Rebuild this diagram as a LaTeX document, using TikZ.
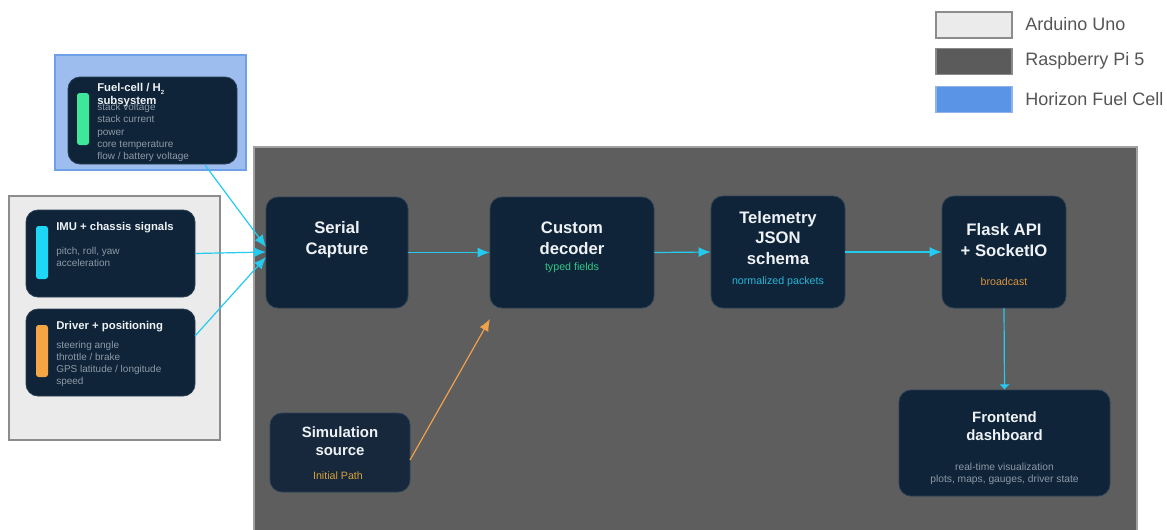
\documentclass[tikz,border=0pt]{standalone}
\usepackage{fontspec}
\setmainfont{Liberation Sans}
\usetikzlibrary{arrows.meta,calc}
\definecolor{navy}{HTML}{0F2438}
\definecolor{navyedge}{HTML}{2B3F55}
\definecolor{simnavy}{HTML}{17283C}
\definecolor{rpi}{HTML}{5E5E5E}
\definecolor{rpiedge}{HTML}{A0A0A0}
\definecolor{ard}{HTML}{EBEBEB}
\definecolor{ardedge}{HTML}{8C8C8C}
\definecolor{fuelbg}{HTML}{9DBDEF}
\definecolor{fueledge}{HTML}{6E9FE9}
\definecolor{legblue}{HTML}{5A94E6}
\definecolor{legblueedge}{HTML}{8FB3E8}
\definecolor{legdark}{HTML}{5B5B5B}
\definecolor{legdarkedge}{HTML}{8A8A8A}
\definecolor{titlew}{HTML}{EEF2F6}
\definecolor{itemg}{HTML}{8D99A8}
\definecolor{barg}{HTML}{3DE89A}
\definecolor{txtg}{HTML}{2FC987}
\definecolor{barc}{HTML}{1ED6F5}
\definecolor{arrc}{HTML}{22CBEF}
\definecolor{txtc}{HTML}{27B5D9}
\definecolor{baro}{HTML}{F5A544}
\definecolor{txto}{HTML}{D9913F}
\definecolor{txty}{HTML}{D4A23A}
\definecolor{arro}{HTML}{F0A04B}
\definecolor{legtxt}{HTML}{555555}
\tikzset{
  card/.style={draw=navyedge, line width=0.6pt, fill=navy, rounded corners=9pt, inner sep=0pt},
  simcard/.style={card, fill=simnavy},
  bar/.style={rounded corners=2pt, inner sep=0pt, minimum width=9pt},
  bigtitle/.style={text=titlew, align=center, inner sep=0pt, font=\bfseries\fontsize{12.5}{15.5}\selectfont},
  midtitle/.style={text=titlew, align=center, inner sep=0pt, font=\bfseries\fontsize{11.2}{13.5}\selectfont},
  smalltitle/.style={text=titlew, align=left, anchor=west, inner sep=0pt, font=\bfseries\fontsize{8.5}{9.75}\selectfont},
  items/.style={text=itemg, align=left, anchor=west, inner sep=0pt, font=\fontsize{7.5}{9.1}\selectfont},
  sub/.style={inner sep=0pt, font=\fontsize{8}{9}\selectfont},
  legbox/.style={minimum width=57pt, minimum height=19.5pt, inner sep=0pt, line width=1.1pt},
  legtext/.style={anchor=west, inner sep=0pt, text=legtxt, font=\fontsize{13.5}{16}\selectfont},
  flow/.style={draw=arrc, line width=0.9pt, -{Latex[length=9pt,width=7.5pt]}},
  flatflow/.style={draw=arrc, line width=0.9pt, -{Latex[length=4pt,width=8pt]}},
  simflow/.style={draw=arro, line width=0.9pt, -{Latex[length=9pt,width=7.5pt]}}
}
\begin{document}
\begin{tikzpicture}[x=0.75pt,y=-0.75pt]
\useasboundingbox (0,0) rectangle (1167,529);
% background regions
\node[draw=rpiedge, fill=rpi, line width=1pt, minimum width=662.25pt, minimum height=288pt, inner sep=0pt] (rpiarea) at (695.5,339) {};
\node[draw=ardedge, fill=ard, line width=1.1pt, minimum width=158.25pt, minimum height=183pt, inner sep=0pt] (ardarea) at (114.5,318) {};
\node[draw=fueledge, fill=fuelbg, line width=1.1pt, minimum width=143.25pt, minimum height=86.25pt, inner sep=0pt] (fuelarea) at (150.5,112.5) {};
% legend
\node[legbox, draw=ardedge, fill=ard] (lg1) at (974,25) {};
\node[legbox, draw=legdarkedge, fill=legdark] (lg2) at (974,61.5) {};
\node[legbox, draw=legblueedge, fill=legblue] (lg3) at (974,99.5) {};
\node[legtext] (lt1) at (1025,24) {Arduino Uno};
\node[legtext] (lt2) at (1025,61) {Raspberry Pi 5};
\node[legtext] (lt3) at (1025,99) {Horizon Fuel Cell};
% sensor cards
\node[card, minimum width=126.75pt, minimum height=65.25pt] (fuel) at (152.5,120.5) {};
\node[bar, fill=barg, minimum height=39pt] (fuelbar) at (83,119) {};
\node[smalltitle, anchor=north west] (fueltitle) at (97,83.5) {Fuel-cell / H\raisebox{-0.35ex}{\fontsize{4.5}{5}\selectfont 2}\\subsystem};
\node[items] (fuelitems) at (97,132.5) {stack voltage\\stack current\\power\\core temperature\\flow / battery voltage};

\node[card, minimum width=126.75pt, minimum height=65.25pt] (imu) at (110.5,253.5) {};
\node[bar, fill=barc, minimum height=39.75pt] (imubar) at (42,252.5) {};
\node[smalltitle] (imutitle) at (56,228) {IMU + chassis signals};
\node[items] (imuitems) at (56,257) {pitch, roll, yaw\\acceleration};

\node[card, minimum width=126.75pt, minimum height=65.25pt] (drv) at (110.5,352.5) {};
\node[bar, fill=baro, minimum height=39pt] (drvbar) at (42,351) {};
\node[smalltitle] (drvtitle) at (56,327) {Driver + positioning};
\node[items] (drvitems) at (56,364) {steering angle\\throttle / brake\\GPS latitude / longitude\\speed};

% pipeline cards
\node[card, minimum width=106.5pt, minimum height=83.25pt] (serial) at (337,252.5) {};
\node[bigtitle] (serialt) at (337,240) {Serial\\Capture};

\node[card, minimum width=123pt, minimum height=83.25pt] (decoder) at (572,252.5) {};
\node[bigtitle] (decodert) at (572,238) {Custom\\decoder};
\node[sub, text=txtg] (decoders) at (572,268) {typed fields};

\node[card, minimum width=100.5pt, minimum height=84pt] (schema) at (778,252) {};
\node[bigtitle] (schemat) at (778,238) {Telemetry\\JSON\\schema};
\node[sub, text=txtc] (schemas) at (778,282) {normalized packets};

\node[card, minimum width=93pt, minimum height=84pt] (flask) at (1004,252) {};
\node[bigtitle] (flaskt) at (1004,240) {Flask API\\+ SocketIO};
\node[sub, text=txto] (flasks) at (1004,282) {broadcast};

\node[card, minimum width=158.25pt, minimum height=79.5pt] (front) at (1004.5,443) {};
\node[midtitle] (frontt) at (1004.5,426) {Frontend\\dashboard};
\node[sub, text=itemg, align=center, font=\fontsize{7.7}{9}\selectfont] (fronts) at (1004.5,474) {real-time visualization\\plots, maps, gauges, driver state};

\node[simcard, minimum width=105pt, minimum height=59.25pt] (sim) at (340,452.5) {};
\node[midtitle] (simt) at (340,441) {Simulation\\source};
\node[sub, text=txty] (sims) at (338,476) {Initial Path};

% connectors
\coordinate (fuelout) at (205,165);
\coordinate (drvout) at (195,336);
\coordinate (inA) at (266,247);
\coordinate (inB) at (266,252);
\coordinate (inC) at (266,257);
\coordinate (simout) at (410,460);
\coordinate (decin) at (490,319);
\draw[flow] (fuelout) -- (inA);
\draw[flow] (imu.east) -- (inB);
\draw[flow] (drvout) -- (inC);
\draw[flow] (serial.east) -- (decoder.west);
\draw[flow] (decoder.east) -- (schema.west);
\draw[flow] (schema.east) -- (flask.west);
\draw[flatflow] (flask.south) -- (front.north);
\draw[simflow] (simout) -- (decin);
\end{tikzpicture}
\end{document}
